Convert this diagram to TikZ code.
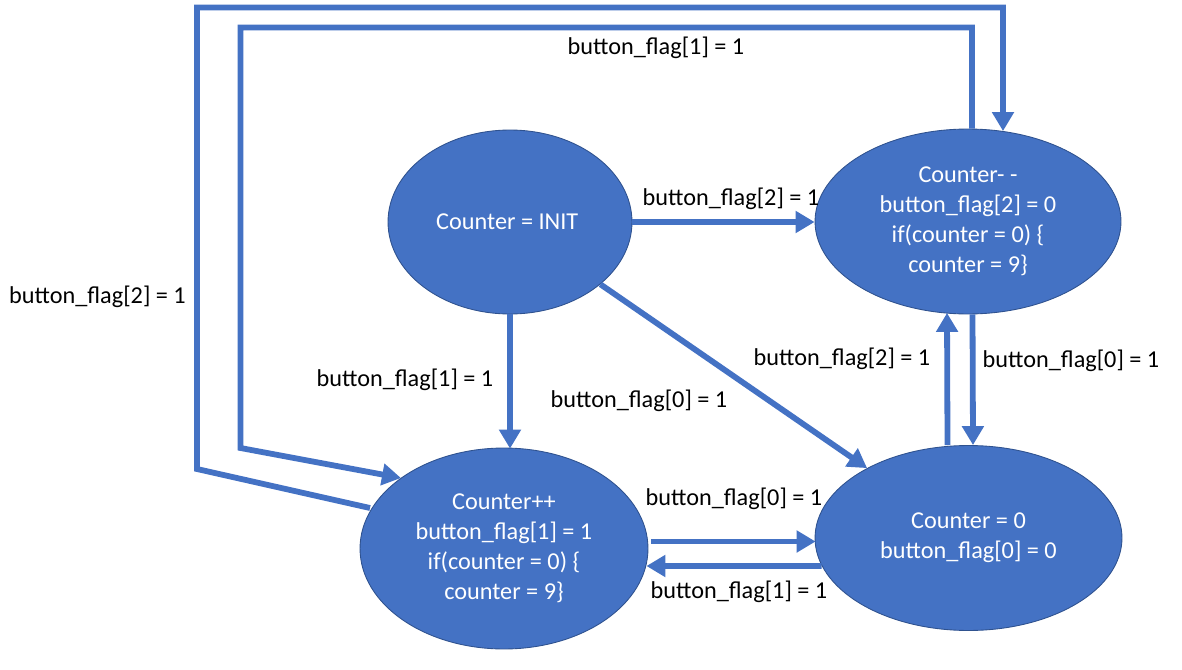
\documentclass[tikz,border=0pt]{standalone}
\usepackage{fontspec}
\setmainfont{Carlito}
\usetikzlibrary{shapes, arrows.meta, positioning, calc}
\definecolor{officeblue}{HTML}{4472C4}
\definecolor{officeedge}{HTML}{2F528F}
\tikzset{
	state/.style={ellipse, draw=officeedge, line width=0.5pt, fill=officeblue,
		text=white, align=center, inner sep=0pt,
		font=\fontsize{13.8}{17}\selectfont},
	trans/.style={officeblue, line width=3.3pt,
		-{Triangle[length=10.8pt,width=12pt]}},
	lbl/.style={font=\fontsize{13.8}{17}\selectfont, inner sep=0pt, yshift=-0.04cm}
}

\begin{document}
\begin{tikzpicture}[x=0.02cm, y=-0.02cm]
	\useasboundingbox (0,0) rectangle (1182,669);
	% draw state nodes
	\node[state,
	minimum width=4.88cm,
	minimum height=3.68cm] (init) at (510,222) {
	Counter = INIT
	};
	\node[state,
	minimum width=6.12cm,
	minimum height=3.7cm] (dec) at (968,221.5) {
	Counter- -\\ button\_flag[2] = 0\\ if(counter = 0) \{\\ counter = 9\}
	};
	\node[state,
	minimum width=6.14cm,
	minimum height=3.7cm] (zero) at (968.5,538) {
	Counter = 0\\ button\_flag[0] = 0
	};
	\node[state,
	minimum width=5.76cm,
	minimum height=4.02cm] (inc) at (504,548.5) {
	Counter++\\ button\_flag[1] = 1\\ if(counter = 0) \{\\ counter = 9\}
	};
	
	% Arrows
	\draw[trans] (init.east) -- (init.east -| dec.west);
	\draw[trans] (init.south) -- ($(init.south |- inc.north)+(0,1)$);
	\draw[trans] (init) -- (zero);
	\draw[trans] ($(zero.north)+(-21,0)$) -- ($(dec.south)+(-21,-1.5)$);
	\draw[trans] ($(dec.south)+(4.5,0)$) -- ($(zero.north)+(4.5,0)$);
	\draw[trans] ($(inc.east)+(3,-7)$) -- ($(zero.west)+(1,3.5)$);
	\draw[trans] ($(zero.west)+(7,28)$) -- ($(inc.east)+(-2,17.5)$);
	% loops round the outside
	\draw[trans, line join=miter] ($(inc.center)+(-134,-40.5)$) -- (197,469) -- (197,7.5)
		-- (1003,7.5) -- ($(dec.north)+(35,2.5)$);
	\draw[trans, line join=miter] ($(dec.north)+(4,0)$) -- (972,27.5) -- (240.5,27.5)
		-- (240.5,448) -- ($(inc.center)+(-103,-70.5)$);
	
	% Labels
	\node[lbl] (l-top) at (656,46) {button\_flag[1] = 1};
	\node[lbl] (l-left) at (97.5,295) {button\_flag[2] = 1};
	\node[lbl] (l-initdec) at (731,197) {button\_flag[2] = 1};
	\node[lbl] (l-initinc) at (405,378) {button\_flag[1] = 1};
	\node[lbl] (l-initzero) at (639,399) {button\_flag[0] = 1};
	\node[lbl] (l-zerodec) at (842,357) {button\_flag[2] = 1};
	\node[lbl] (l-deczero) at (1071,359) {button\_flag[0] = 1};
	\node[lbl] (l-inczero) at (734,497) {button\_flag[0] = 1};
	\node[lbl] (l-zeroinc) at (739,590) {button\_flag[1] = 1};
\end{tikzpicture}
\end{document}
